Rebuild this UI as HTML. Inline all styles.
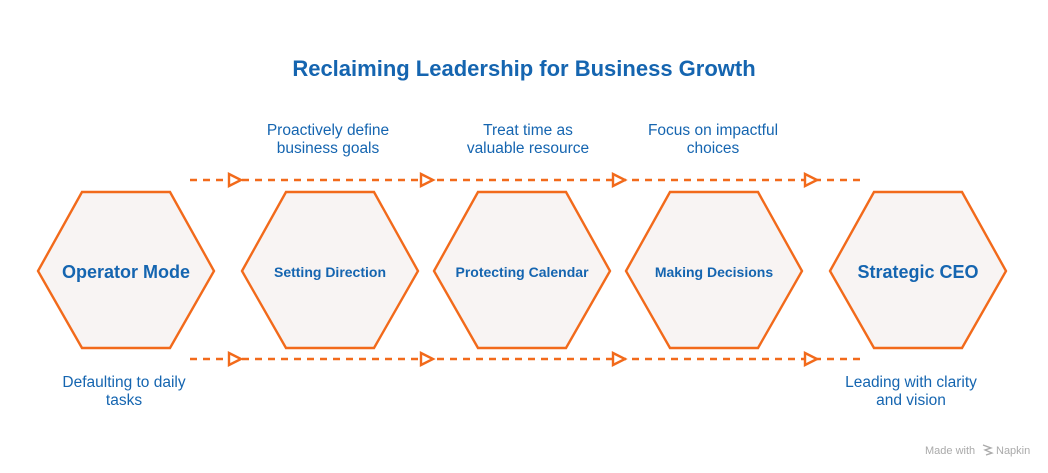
<!DOCTYPE html>
<html><head><style>
body{margin:0;width:1048px;height:468px;background:#fff;overflow:hidden;font-family:"Liberation Sans",sans-serif;}
</style></head><body>
<svg width="1048" height="468" xmlns="http://www.w3.org/2000/svg" font-family="Liberation Sans, sans-serif">
<text x="524" y="76" text-anchor="middle" font-size="22" font-weight="bold" fill="#1565b0">Reclaiming Leadership for Business Growth</text>
<g stroke="#f26a1b" stroke-width="2.4" fill="none">
<line x1="190" y1="180" x2="866" y2="180" stroke-dasharray="7,6"/>
<line x1="190" y1="359" x2="866" y2="359" stroke-dasharray="7,6"/>
<g fill="#fff">
<polygon points="229,174 241,180 229,186"/>
<polygon points="421,174 433,180 421,186"/>
<polygon points="613,174 625,180 613,186"/>
<polygon points="805,174 817,180 805,186"/>
<polygon points="229,353 241,359 229,365"/>
<polygon points="421,353 433,359 421,365"/>
<polygon points="613,353 625,359 613,365"/>
<polygon points="805,353 817,359 805,365"/>
</g>
<g fill="#f8f4f3">
<polygon points="38,271 82,192 170,192 214,271 170,348 82,348"/>
<polygon points="242,271 286,192 374,192 418,271 374,348 286,348"/>
<polygon points="434,271 478,192 566,192 610,271 566,348 478,348"/>
<polygon points="626,271 670,192 758,192 802,271 758,348 670,348"/>
<polygon points="830,271 874,192 962,192 1006,271 962,348 874,348"/>
</g>
</g>
<g fill="#1565b0" text-anchor="middle">
<text x="126" y="278" font-size="18" font-weight="bold">Operator Mode</text>
<text x="330" y="277" font-size="14" font-weight="bold">Setting Direction</text>
<text x="522" y="277" font-size="14" font-weight="bold">Protecting Calendar</text>
<text x="714" y="277" font-size="14" font-weight="bold">Making Decisions</text>
<text x="918" y="278" font-size="18" font-weight="bold">Strategic CEO</text>
<g font-size="15.5">
<text x="328" y="135">Proactively define</text><text x="328" y="153">business goals</text>
<text x="528" y="135">Treat time as</text><text x="528" y="153">valuable resource</text>
<text x="713" y="135">Focus on impactful</text><text x="713" y="153">choices</text>
<text x="124" y="387">Defaulting to daily</text><text x="124" y="405">tasks</text>
<text x="911" y="387">Leading with clarity</text><text x="911" y="405">and vision</text>
</g>
</g>
<text x="925" y="454" font-size="11" fill="#aaa">Made with</text>
<text x="996" y="454" font-size="11" fill="#aaa">Napkin</text>
<path d="M983 445 l8 3 -6 2 7 3 -6 2" stroke="#aaa" stroke-width="1.3" fill="none"/>
</svg>
</body></html>
